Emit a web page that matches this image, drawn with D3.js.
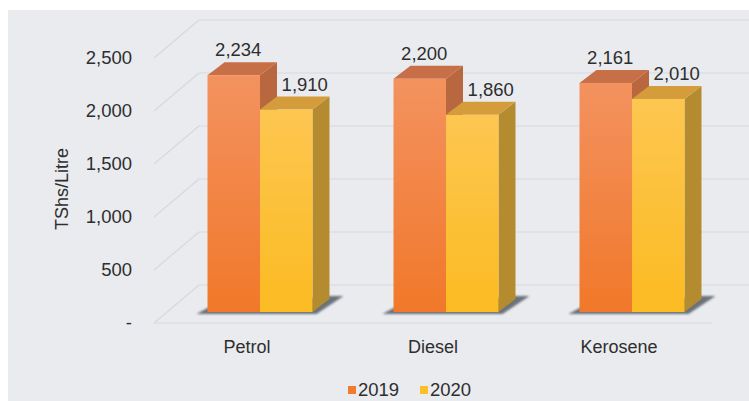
<!DOCTYPE html>
<html>
<head>
<meta charset="utf-8">
<script src="https://cdn.jsdelivr.net/npm/d3@7"></script>
<style>
  body { margin: 0; background: #ffffff; }
  text { font-family: "Liberation Sans", Arial, sans-serif; fill: #2e2e2e; }
</style>
</head>
<body>
<div id="chart"></div>
<script>
// Chart data
var categories = ["Petrol", "Diesel", "Kerosene"];
var years = ["2019", "2020"];
var values2019 = [2234, 2200, 2161];
var values2020 = [1910, 1860, 2010];
var yTicks = [0, 500, 1000, 1500, 2000, 2500];
var yTickLabels = ["-", "500", "1,000", "1,500", "2,000", "2,500"];
var valueLabels2019 = ["2,234", "2,200", "2,161"];
var valueLabels2020 = ["1,910", "1,860", "2,010"];

// SVG size
var svgWidth = 749;
var svgHeight = 401;

// 3D layout: front floor edge, back wall and the plane the bars stand on
var floorY = 323;
var wall = { dx: 45, dy: -38 };
var barPlane = { dx: 13, dy: -11 };
var depth = { dx: 17, dy: -13 };

var svg = d3.select("#chart")
  .append("svg")
  .attr("width", svgWidth)
  .attr("height", svgHeight);

// Gradients and shadow blur
var defs = svg.append("defs");
var gradOrange = defs.append("linearGradient").attr("id", "gOrange")
  .attr("x1", 0).attr("y1", 0).attr("x2", 0).attr("y2", 1);
gradOrange.append("stop").attr("offset", "0%").attr("stop-color", "#f3925f");
gradOrange.append("stop").attr("offset", "100%").attr("stop-color", "#f1782a");
var gradYellow = defs.append("linearGradient").attr("id", "gYellow")
  .attr("x1", 0).attr("y1", 0).attr("x2", 0).attr("y2", 1);
gradYellow.append("stop").attr("offset", "0%").attr("stop-color", "#fdc650");
gradYellow.append("stop").attr("offset", "100%").attr("stop-color", "#fbbb22");
defs.append("filter").attr("id", "blur")
  .attr("x", "-20%").attr("y", "-50%").attr("width", "140%").attr("height", "200%")
  .append("feGaussianBlur").attr("stdDeviation", 1.3);

var colors = {
  "2019": { front: "url(#gOrange)", side: "#b9673f", top: "#c76f47", legend: "#f27b30" },
  "2020": { front: "url(#gYellow)", side: "#b58b2f", top: "#d49c3b", legend: "#fcbf2a" }
};

// Panel background
svg.append("rect")
  .attr("x", 8).attr("y", 10)
  .attr("width", svgWidth - 8).attr("height", svgHeight - 10)
  .attr("fill", "#e9ebee");

// Scales
var xScale = d3.scaleBand()
  .domain(categories)
  .range([154, 712]);

var xSub = d3.scaleBand()
  .domain(years)
  .range([0, 105]);

var hScale = d3.scaleLinear()
  .domain([0, 2500])
  .range([0, 265]);

var x0 = xScale.range()[0];
var x1 = xScale.range()[1];

// Grid: back wall lines and left side diagonals
var grid = svg.append("g").attr("stroke", "#d6d9de").attr("stroke-width", 1.2).attr("fill", "none");
yTicks.forEach(function(v) {
  var yf = floorY - hScale(v);
  grid.append("line")
    .attr("x1", x0 + wall.dx).attr("y1", yf + wall.dy)
    .attr("x2", svgWidth).attr("y2", yf + wall.dy);
  grid.append("line")
    .attr("x1", x0).attr("y1", yf)
    .attr("x2", x0 + wall.dx).attr("y2", yf + wall.dy);
});
// Front floor edge
grid.append("line")
  .attr("x1", x0).attr("y1", floorY)
  .attr("x2", x1).attr("y2", floorY);

// Y tick labels
svg.append("g").selectAll("text")
  .data(yTicks)
  .enter().append("text")
  .attr("x", 132)
  .attr("y", function(d) { return floorY - hScale(d) + 6; })
  .attr("text-anchor", "end")
  .attr("font-size", "18.5px")
  .text(function(d, i) { return yTickLabels[i]; });

// Y axis title
svg.append("text")
  .attr("transform", "translate(68, 189) rotate(-90)")
  .attr("text-anchor", "middle")
  .attr("font-size", "18px")
  .text("TShs/Litre");

// Category labels
svg.append("g").selectAll("text")
  .data(categories)
  .enter().append("text")
  .attr("x", function(d) { return xScale(d) + xScale.bandwidth() / 2; })
  .attr("y", 353)
  .attr("text-anchor", "middle")
  .attr("font-size", "18px")
  .text(function(d) { return d; });

// Bar data
var bars = [];
categories.forEach(function(c, i) {
  bars.push({ cat: c, year: "2019", value: values2019[i], label: valueLabels2019[i] });
  bars.push({ cat: c, year: "2020", value: values2020[i], label: valueLabels2020[i] });
});

function barGeom(d) {
  var left = xScale(d.cat) + xScale.bandwidth() / 2 - xSub.range()[1] / 2 + xSub(d.year) + barPlane.dx;
  var w = xSub.bandwidth();
  var base = floorY + barPlane.dy;
  var top = base - hScale(d.value);
  return { left: left, right: left + w, base: base, top: top };
}

function pts(arr) { return arr.map(function(p) { return p.join(","); }).join(" "); }

// Shadows under each group
var shadows = svg.append("g");
categories.forEach(function(c) {
  var g1 = barGeom({ cat: c, year: "2019", value: 0 });
  var g2 = barGeom({ cat: c, year: "2020", value: 0 });
  shadows.append("polygon")
    .attr("points", pts([
      [g1.left - 11, g1.base + 2],
      [g2.right + 4, g1.base + 2],
      [g2.right + depth.dx + 14, g1.base + depth.dy - 3],
      [g2.right + depth.dx, g1.base + depth.dy - 3],
      [g1.left, g1.base - 4]
    ]))
    .attr("fill", "#5d656e")
    .attr("opacity", 0.9)
    .attr("filter", "url(#blur)");
});

// Bars (front face, side, top)
var barGroups = svg.append("g").selectAll("g")
  .data(bars)
  .enter().append("g");

barGroups.append("polygon")
  .attr("points", function(d) {
    var g = barGeom(d);
    return pts([[g.right, g.top], [g.right + depth.dx, g.top + depth.dy],
      [g.right + depth.dx, g.base + depth.dy], [g.right, g.base]]);
  })
  .attr("fill", function(d) { return colors[d.year].side; });

barGroups.append("polygon")
  .attr("points", function(d) {
    var g = barGeom(d);
    return pts([[g.left, g.top], [g.left + depth.dx, g.top + depth.dy],
      [g.right + depth.dx, g.top + depth.dy], [g.right, g.top]]);
  })
  .attr("fill", function(d) { return colors[d.year].top; });

barGroups.append("rect")
  .attr("x", function(d) { return barGeom(d).left; })
  .attr("y", function(d) { return barGeom(d).top; })
  .attr("width", xSub.bandwidth())
  .attr("height", function(d) { return hScale(d.value); })
  .attr("fill", function(d) { return colors[d.year].front; });

// Value labels
svg.append("g").selectAll("text")
  .data(bars)
  .enter().append("text")
  .attr("x", function(d) {
    var g = barGeom(d);
    return (g.left + g.right) / 2 + depth.dx / 2 + (d.year === "2019" ? -4 : 10);
  })
  .attr("y", function(d) { return barGeom(d).top + depth.dy - 6; })
  .attr("text-anchor", "middle")
  .attr("font-size", "18.5px")
  .text(function(d) { return d.label; });

// Legend
var legend = svg.append("g").selectAll("g")
  .data(years)
  .enter().append("g")
  .attr("transform", function(d, i) { return "translate(" + (348 + i * 72) + ", 0)"; });

legend.append("rect")
  .attr("x", 0).attr("y", 386)
  .attr("width", 8).attr("height", 8)
  .attr("fill", function(d) { return colors[d].legend; });

legend.append("text")
  .attr("x", 10).attr("y", 396)
  .attr("font-size", "18.5px")
  .text(function(d) { return d; });
</script>
</body>
</html>
